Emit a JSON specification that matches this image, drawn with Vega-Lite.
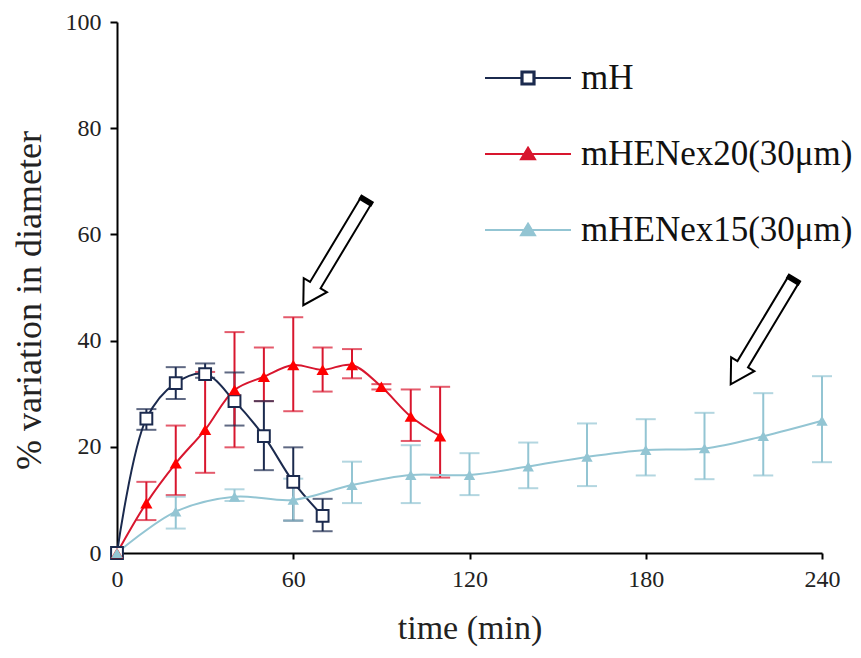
{
  "$schema": "https://vega.github.io/schema/vega-lite/v6.json",
  "width": 705,
  "height": 531,
  "autosize": {"type": "none"},
  "padding": {"left": 117, "top": 22, "right": 39, "bottom": 105},
  "background": "white",
  "config": {
    "view": {"stroke": null},
    "font": "'Liberation Serif', 'Times New Roman', serif",
    "axis": {
      "grid": false,
      "domainColor": "black",
      "domainWidth": 2,
      "tickColor": "black",
      "tickWidth": 2,
      "labelFont": "'Liberation Serif', 'Times New Roman', serif",
      "labelFontSize": 24,
      "labelColor": "#222222",
      "titleFont": "'Liberation Serif', 'Times New Roman', serif",
      "titleFontSize": 34,
      "titleFontWeight": "normal",
      "titleColor": "#222222"
    }
  },
  "datasets": {
    "series": [
      {"series": "mH", "t": 0, "v": 0, "lo": null, "hi": null},
      {"series": "mH", "t": 10, "v": 25.3, "lo": 23.2, "hi": 27.1},
      {"series": "mH", "t": 20, "v": 32, "lo": 29, "hi": 35},
      {"series": "mH", "t": 30, "v": 33.7, "lo": 33.0, "hi": 35.7},
      {"series": "mH", "t": 40, "v": 28.6, "lo": 24, "hi": 34},
      {"series": "mH", "t": 50, "v": 22, "lo": 15.6, "hi": 28.6},
      {"series": "mH", "t": 60, "v": 13.4, "lo": 6.1, "hi": 19.9},
      {"series": "mH", "t": 70, "v": 7, "lo": 4.1, "hi": 10.2},
      {"series": "mHENex20(30μm)", "t": 0, "v": 0, "lo": null, "hi": null},
      {"series": "mHENex20(30μm)", "t": 10, "v": 9.4, "lo": 6.2, "hi": 13.4},
      {"series": "mHENex20(30μm)", "t": 20, "v": 16.9, "lo": 10.9, "hi": 24},
      {"series": "mHENex20(30μm)", "t": 30, "v": 23.2, "lo": 15.1, "hi": 34.1},
      {"series": "mHENex20(30μm)", "t": 40, "v": 30.7, "lo": 19.9, "hi": 41.6},
      {"series": "mHENex20(30μm)", "t": 50, "v": 33.2, "lo": 28.6, "hi": 38.7},
      {"series": "mHENex20(30μm)", "t": 60, "v": 35.4, "lo": 26.7, "hi": 44.4},
      {"series": "mHENex20(30μm)", "t": 70, "v": 34.5, "lo": 30.4, "hi": 38.7},
      {"series": "mHENex20(30μm)", "t": 80, "v": 35.4, "lo": 32.9, "hi": 38.4},
      {"series": "mHENex20(30μm)", "t": 90, "v": 31.3, "lo": 30.8, "hi": 31.8},
      {"series": "mHENex20(30μm)", "t": 100, "v": 25.7, "lo": 21.1, "hi": 30.8},
      {"series": "mHENex20(30μm)", "t": 110, "v": 22, "lo": 14.2, "hi": 31.3},
      {"series": "mHENex15(30μm)", "t": 0, "v": 0, "lo": null, "hi": null},
      {"series": "mHENex15(30μm)", "t": 20, "v": 7.8, "lo": 4.6, "hi": 10.6},
      {"series": "mHENex15(30μm)", "t": 40, "v": 10.6, "lo": 9.8, "hi": 12},
      {"series": "mHENex15(30μm)", "t": 60, "v": 10, "lo": 6.1, "hi": 14},
      {"series": "mHENex15(30μm)", "t": 80, "v": 12.8, "lo": 9.4, "hi": 17.2},
      {"series": "mHENex15(30μm)", "t": 100, "v": 14.7, "lo": 9.4, "hi": 20.3},
      {"series": "mHENex15(30μm)", "t": 120, "v": 14.7, "lo": 10.9, "hi": 18.8},
      {"series": "mHENex15(30μm)", "t": 140, "v": 16.3, "lo": 12.2, "hi": 20.8},
      {"series": "mHENex15(30μm)", "t": 160, "v": 18.1, "lo": 12.6, "hi": 24.4},
      {"series": "mHENex15(30μm)", "t": 180, "v": 19.4, "lo": 14.6, "hi": 25.2},
      {"series": "mHENex15(30μm)", "t": 200, "v": 19.7, "lo": 13.9, "hi": 26.4},
      {"series": "mHENex15(30μm)", "t": 220, "v": 22, "lo": 14.6, "hi": 30.1},
      {"series": "mHENex15(30μm)", "t": 240, "v": 24.9, "lo": 17.1, "hi": 33.3}
    ],
    "arrows": [
      {"t": 74.2, "v": 56.6},
      {"t": 219.7, "v": 41.7}
    ]
  },
  "data": {"name": "series"},
  "layer": [
    {
      "mark": {"type": "rule", "strokeWidth": 2},
      "encoding": {
        "x": {"field": "t", "type": "quantitative", "scale": {"domain": [0, 240], "nice": false},
              "axis": {"values": [0, 60, 120, 180, 240], "tickSize": 6, "labelPadding": 8, "labelFlush": false,
                       "labelFont": "'Liberation Serif', 'Times New Roman', serif", "labelFontSize": 24,
                       "titleFont": "'Liberation Serif', 'Times New Roman', serif", "titleFontSize": 34,
                       "title": "time (min)", "titlePadding": 20}},
        "y": {"field": "lo", "type": "quantitative", "scale": {"domain": [0, 100], "nice": false},
              "axis": {"values": [0, 20, 40, 60, 80, 100], "tickSize": 7, "labelPadding": 9, "labelFlush": false,
                       "labelFont": "'Liberation Serif', 'Times New Roman', serif", "labelFontSize": 24,
                       "titleFont": "'Liberation Serif', 'Times New Roman', serif", "titleFontSize": 36,
                       "title": "% variation in diameter", "titlePadding": 17, "titleY": 278}},
        "y2": {"field": "hi"},
        "color": {"field": "series", "type": "nominal",
                  "scale": {"domain": ["mH", "mHENex20(30μm)", "mHENex15(30μm)"], "range": ["#1b2a4e", "#d8162e", "#93c5d3"]}}
      }
    },
    {
      "mark": {"type": "tick", "orient": "horizontal", "size": 20, "thickness": 2},
      "encoding": {
        "x": {"field": "t", "type": "quantitative"},
        "y": {"field": "lo", "type": "quantitative"},
        "color": {"field": "series", "type": "nominal"}
      }
    },
    {
      "mark": {"type": "tick", "orient": "horizontal", "size": 20, "thickness": 2},
      "encoding": {
        "x": {"field": "t", "type": "quantitative"},
        "y": {"field": "hi", "type": "quantitative"},
        "color": {"field": "series", "type": "nominal"}
      }
    },
    {
      "mark": {"type": "line", "interpolate": "catmull-rom", "strokeWidth": 2},
      "encoding": {
        "x": {"field": "t", "type": "quantitative"},
        "y": {"field": "v", "type": "quantitative"},
        "color": {"field": "series", "type": "nominal",
                  "legend": {
                    "orient": "none", "legendX": 413, "legendY": 35, "title": null,
                    "labelFont": "'Liberation Serif', 'Times New Roman', serif", "labelFontSize": 35, "labelColor": "#111111",
                    "labelLimit": 400, "labelOffset": 9, "symbolSize": 1600, "rowPadding": 37, "padding": 0,
                    "symbolStrokeWidth": 2,
                    "encode": {
                      "symbols": {
                        "update": {
                          "shape": [
                            {"test": "datum.value === 'mH'", "value": "M-3.3,0H-1.48M-0.82,0H1M-1.48,-0.33H-0.82V0.33H-1.48ZM-1.42,-0.27V0.27H-0.88V-0.27Z"},
                            {"value": "M-3.3,0H1M-1.15,-0.32L-0.8,0.26H-1.5Z"}
                          ],
                          "strokeWidth": {"value": 2},
                          "opacity": {"value": 1}
                        }
                      }
                    }
                  }}
      }
    },
    {
      "transform": [{"filter": "datum.series === 'mH'"}],
      "mark": {"type": "point", "shape": "square", "filled": true, "fill": "white", "stroke": "#1b2a4e", "strokeWidth": 2, "size": 140, "opacity": 1},
      "encoding": {
        "x": {"field": "t", "type": "quantitative"},
        "y": {"field": "v", "type": "quantitative"}
      }
    },
    {
      "transform": [{"filter": "datum.series === 'mHENex20(30μm)'"}],
      "mark": {"type": "point", "shape": "triangle-up", "filled": true, "fill": "#ff0000", "size": 150, "opacity": 1},
      "encoding": {
        "x": {"field": "t", "type": "quantitative"},
        "y": {"field": "v", "type": "quantitative"}
      }
    },
    {
      "transform": [{"filter": "datum.series === 'mHENex15(30μm)'"}],
      "mark": {"type": "point", "shape": "triangle-up", "filled": true, "fill": "#93c5d3", "size": 130, "opacity": 1},
      "encoding": {
        "x": {"field": "t", "type": "quantitative"},
        "y": {"field": "v", "type": "quantitative"}
      }
    },
    {
      "data": {"name": "arrows"},
      "mark": {"type": "point", "shape": "M-0.1,-1L0.1,-1L0.1,0.62L0.22,0.62L0,1L-0.22,0.62L-0.1,0.62Z",
               "filled": true, "fill": "white", "stroke": "black", "strokeWidth": 2, "size": 15129, "angle": 31, "opacity": 1},
      "encoding": {
        "x": {"field": "t", "type": "quantitative"},
        "y": {"field": "v", "type": "quantitative"}
      }
    },
    {
      "data": {"name": "arrows"},
      "mark": {"type": "point", "shape": "M-0.11,-1.02H0.11V-0.95H-0.11Z",
               "filled": true, "fill": "black", "stroke": "black", "strokeWidth": 1.5, "size": 15129, "angle": 31, "opacity": 1},
      "encoding": {
        "x": {"field": "t", "type": "quantitative"},
        "y": {"field": "v", "type": "quantitative"}
      }
    }
  ]
}
